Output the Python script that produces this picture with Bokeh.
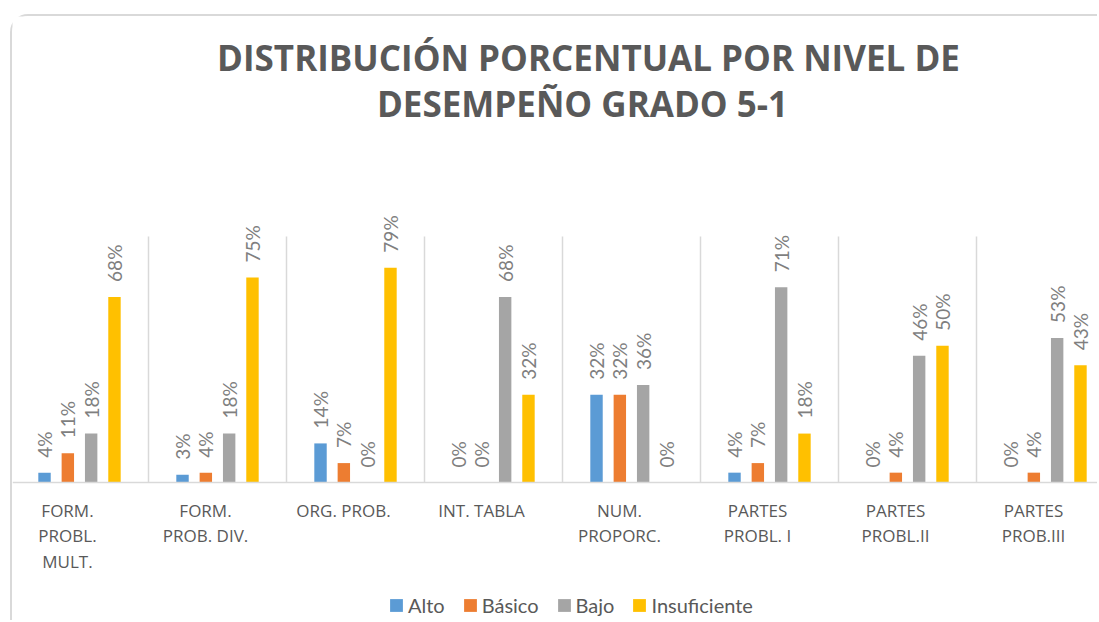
import numpy as np
from bokeh.plotting import figure
from bokeh.models import ColumnDataSource, Range1d, Label, Legend, LegendItem, Span
from bokeh.transform import dodge
from bokeh.core.properties import value
from bokeh.embed import file_html
from bokeh.resources import INLINE

# ---------------- data ----------------
categories = ["FORM.\nPROBL.\nMULT.", "FORM.\nPROB. DIV.", "ORG. PROB.", "INT. TABLA",
              "NUM.\nPROPORC.", "PARTES\nPROBL. I", "PARTES\nPROBL.II", "PARTES\nPROB.III"]
series = ["Alto", "Básico", "Bajo", "Insuficiente"]
alto = [3.6, 2.8, 14.3, 0.0, 32.1, 3.6, 0.0, 0.0]
basico = [10.7, 3.6, 7.1, 0.0, 32.1, 7.1, 3.6, 3.6]
bajo = [17.9, 17.9, 0.0, 67.9, 35.7, 71.4, 46.4, 52.9]
insuficiente = [67.9, 75.0, 78.6, 32.1, 0.0, 17.9, 50.0, 42.9]
title_lines = ["DISTRIBUCIÓN PORCENTUAL POR NIVEL DE", "DESEMPEÑO GRADO 5-1"]

colors = ["#5B9BD5", "#ED7D31", "#A5A5A5", "#FFC000"]
AXIS_MAX = 90

n = len(categories)
centers = np.arange(n) + 0.5
data = {"x": centers, "cat": categories, "zero": [0] * n}
for name, vals in zip(series, [alto, basico, bajo, insuficiente]):
    data[name] = vals
    data[name + "_lbl"] = [f"{round(v)}%" for v in vals]
src = ColumnDataSource(data)

# ---------------- layout ----------------
W, H = 1087, 606
CAT_PX = 138             # pixel width of one category
PX_PER = 246 / AXIS_MAX  # pixels per percent
BASE_Y = 466             # baseline, px from top of canvas
X0 = -2                  # first category boundary, px from left of canvas

p = figure(width=W, height=H, output_backend="svg", toolbar_location=None,
           x_range=Range1d(-X0 / CAT_PX, (W - X0) / CAT_PX),
           y_range=Range1d(-(H - BASE_Y) / PX_PER, BASE_Y / PX_PER),
           x_axis_location=None, y_axis_location=None,
           min_border=0, title=None)
p.outline_line_color = None
p.xgrid.visible = False
p.ygrid.visible = False
p.styles = {"border-left": "2px solid #D9D9D9", "border-top": "2px solid #D9D9D9",
            "border-top-left-radius": "18px", "margin-top": "14px", "margin-left": "10px"}

# category separators
bounds = np.arange(n + 1)
p.segment(x0=bounds, y0=0, x1=bounds, y1=AXIS_MAX, line_color="#D9D9D9", line_width=1.5)
p.add_layout(Span(location=0, dimension="width", line_color="#D9D9D9", line_width=1.5))

offsets = [-0.2535, -0.0845, 0.0845, 0.2535]
renderers = []
for name, col, off in zip(series, colors, offsets):
    r = p.vbar(x=dodge("x", off, range=p.x_range), top=name, width=0.09, source=src,
               fill_color=col, line_color=None)
    renderers.append(r)
    p.text(x=dodge("x", off, range=p.x_range), y=name, text=name + "_lbl", source=src,
           angle=np.pi / 2, text_align="left", text_baseline="middle", y_offset=-15,
           text_font=value("Lato"), text_font_size="19px", text_color="#7F7F7F")

# category labels
p.text(x="x", y="zero", text="cat", source=src, text_align="center", text_baseline="top",
       x_offset=-12, y_offset=16, text_font=value("Open Sans"), text_font_size="17px",
       text_color="#595959", text_line_height=1.12)

for txt, xx, yy in zip(title_lines, [576, 570], [565, 519]):
    p.add_layout(Label(x=xx, y=yy, x_units="screen", y_units="screen", text=txt,
                       text_align="center", text_baseline="alphabetic",
                       text_font="Open Sans", text_font_style="bold",
                       text_font_size="35px", text_color="#595959"))

legend = Legend(items=[LegendItem(label=s, renderers=[r]) for s, r in zip(series, renderers)],
                orientation="horizontal", location=(376, 5), glyph_width=16, glyph_height=16,
                label_standoff=4, spacing=17, padding=0, margin=0, border_line_color=None,
                background_fill_alpha=0, label_height=20, label_text_font="Lato",
                label_text_font_size="20px", label_text_color="#595959")
p.add_layout(legend, "center")

open("out.html", "w").write(file_html(p, INLINE))
